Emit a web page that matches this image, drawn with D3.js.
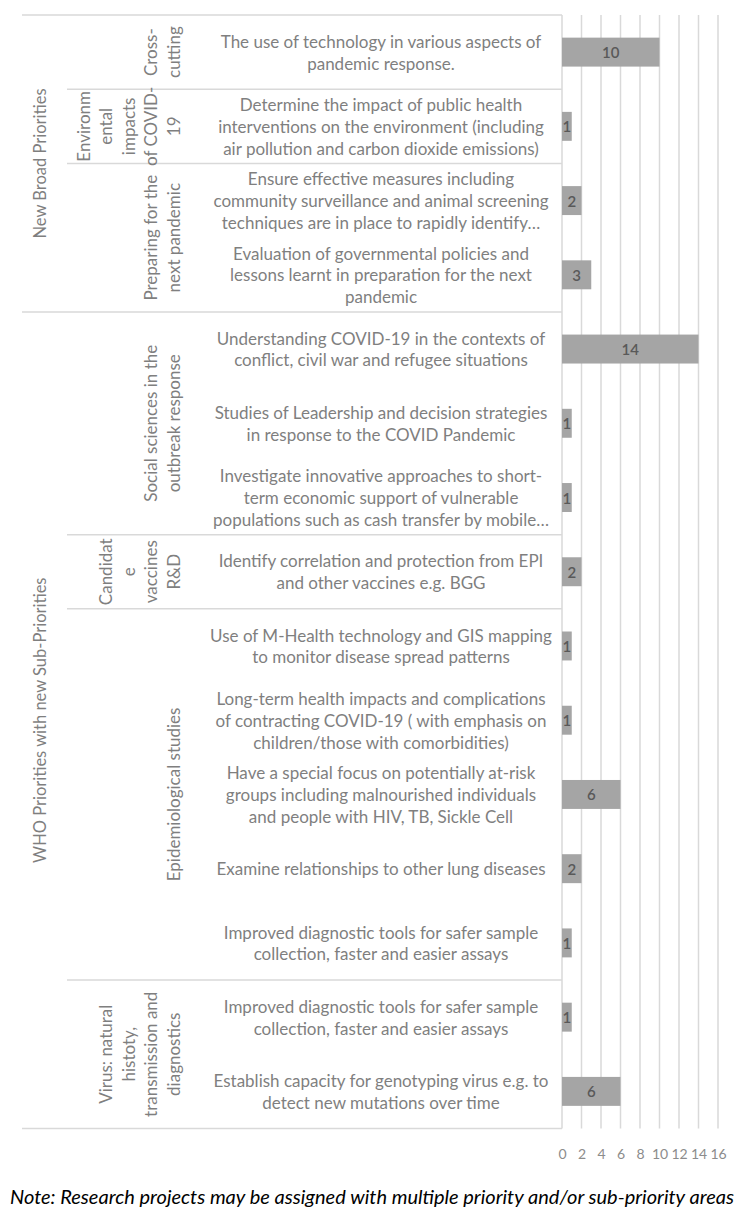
<!DOCTYPE html>
<html>
<head>
<meta charset="utf-8">
<script src="https://cdn.jsdelivr.net/npm/d3@7"></script>
<style>
  html, body { margin: 0; padding: 0; background: #fff; }
  svg { display: block; }
</style>
</head>
<body>
<svg id="chart" width="744" height="1219"></svg>
<script>
// ---------- data ----------
const categories = [
  "The use of technology in various aspects of\npandemic response.",
  "Determine the impact of public health\ninterventions on the environment (including\nair pollution and carbon dioxide emissions)",
  "Ensure effective measures including\ncommunity surveillance and animal screening\ntechniques are in place to rapidly identify…",
  "Evaluation of governmental policies and\nlessons learnt in preparation for the next\npandemic",
  "Understanding COVID-19 in the contexts of\nconflict, civil war and refugee situations",
  "Studies of Leadership and decision strategies\nin response to the COVID Pandemic",
  "Investigate innovative approaches to short-\nterm economic support of vulnerable\npopulations such as cash transfer by mobile…",
  "Identify correlation and protection from EPI\nand other vaccines e.g. BGG",
  "Use of M-Health technology and GIS mapping\nto monitor disease spread patterns",
  "Long-term health impacts and complications\nof contracting COVID-19 ( with emphasis on\nchildren/those with comorbidities)",
  "Have a special focus on potentially at-risk\ngroups including malnourished individuals\nand people with HIV, TB, Sickle Cell",
  "Examine relationships to other lung diseases",
  "Improved diagnostic tools for safer sample\ncollection, faster and easier assays",
  "Improved diagnostic tools for safer sample\ncollection, faster and easier assays",
  "Establish capacity for genotyping virus e.g. to\ndetect new mutations over time"
];
const values = [10, 1, 2, 3, 14, 1, 1, 2, 1, 1, 6, 2, 1, 1, 6];

const subGroups = [
  "Cross-\ncutting",
  "Environm\nental\nimpacts\nof COVID-\n19",
  "Preparing for the\nnext pandemic",
  "Social sciences in the\noutbreak response",
  "Candidat\ne\nvaccines\nR&D",
  "Epidemiological studies",
  "Virus: natural\nhistoty,\ntransmission and\ndiagnostics"
];
const subGroupOf = [0, 1, 2, 2, 3, 3, 3, 4, 5, 5, 5, 5, 5, 6, 6];

const mainGroups = ["New Broad Priorities", "WHO Priorities with new Sub-Priorities"];
const mainGroupOf = [0, 0, 0, 0, 1, 1, 1, 1, 1, 1, 1, 1, 1, 1, 1];

const xTicks = [0, 2, 4, 6, 8, 10, 12, 14, 16];
const xMax = 16;
const note = "Note: Research projects may be assigned with multiple priority and/or sub-priority areas";

// ---------- layout ----------
const FONT = "Lato, 'Open Sans', sans-serif";
const plotTop = 15, plotBottom = 1128.5;
const plotLeft = 562, plotRight = 718;
const mainLineX = 22, subLineX = 67;
const mainLabelX = 40, subLabelLastX = 173, catLabelX = 381;
const lineH = 21.8;
const gridColor = "#d9d9d9";
const textColor = "#7f7f7f";

const svg = d3.select("#chart");
const idx = d3.range(categories.length);

const yRow = d3.scaleBand().domain(idx).range([plotTop, plotBottom]).padding(0);
const yBar = d3.scaleBand().domain(idx).range([plotTop, plotBottom]).paddingInner(0.61).paddingOuter(0.305);
const x = d3.scaleLinear().domain([0, xMax]).range([plotLeft, plotRight]);

// gridlines
svg.append("g").selectAll("line").data(xTicks).join("line")
  .attr("x1", d => x(d)).attr("x2", d => x(d))
  .attr("y1", plotTop).attr("y2", plotBottom)
  .attr("stroke", gridColor).attr("stroke-width", 1.5);

// axis tick labels
const xAxis = d3.axisBottom(x).tickValues(xTicks).tickSize(0).tickPadding(0);
const axisG = svg.append("g").attr("transform", `translate(0,${plotBottom + 21})`).call(xAxis);
axisG.select(".domain").remove();
axisG.selectAll("text")
  .attr("font-family", FONT).attr("font-size", 14).attr("fill", "#8c8c8c")
  .attr("dy", "0.71em");

// separators
function groupBounds(groupOf) {
  const b = [];
  groupOf.forEach((g, i) => {
    if (!b[g]) b[g] = { start: i, end: i };
    b[g].end = i;
  });
  return b;
}
const subB = groupBounds(subGroupOf);
const mainB = groupBounds(mainGroupOf);

const sepG = svg.append("g");
[plotTop, plotBottom].forEach(yy => {
  sepG.append("line").attr("x1", mainLineX).attr("x2", plotLeft)
    .attr("y1", yy).attr("y2", yy).attr("stroke", gridColor).attr("stroke-width", 1.5);
});
mainB.slice(1).forEach(b => {
  const yy = yRow(b.start);
  sepG.append("line").attr("x1", mainLineX).attr("x2", plotLeft)
    .attr("y1", yy).attr("y2", yy).attr("stroke", gridColor).attr("stroke-width", 1.5);
});
subB.slice(1).forEach(b => {
  if (mainGroupOf[b.start] !== mainGroupOf[b.start - 1]) return;
  const yy = yRow(b.start);
  sepG.append("line").attr("x1", subLineX).attr("x2", plotLeft)
    .attr("y1", yy).attr("y2", yy).attr("stroke", gridColor).attr("stroke-width", 1.5);
});

// bars
svg.append("g").selectAll("rect").data(idx).join("rect")
  .attr("x", x(0)).attr("y", i => yBar(i))
  .attr("width", i => x(values[i]) - x(0))
  .attr("height", yBar.bandwidth())
  .attr("fill", "#a5a5a5");

// bar value labels
svg.append("g").selectAll("text").data(idx).join("text")
  .attr("x", i => (x(values[i]) + x(0)) / 2)
  .attr("y", i => yBar(i) + yBar.bandwidth() / 2)
  .attr("text-anchor", "middle").attr("dominant-baseline", "central")
  .attr("font-family", FONT).attr("font-size", 15).attr("font-weight", 600).attr("fill", "#595959")
  .text(i => values[i]);

// category labels
const catG = svg.append("g");
idx.forEach(i => {
  const lines = categories[i].split("\n");
  const cy = yRow(i) + yRow.bandwidth() / 2;
  const t = catG.append("text")
    .attr("text-anchor", "middle")
    .attr("font-family", FONT).attr("font-size", 17).attr("fill", textColor);
  lines.forEach((ln, k) => {
    t.append("tspan").attr("x", catLabelX)
      .attr("y", cy + (k - (lines.length - 1) / 2) * lineH)
      .attr("dominant-baseline", "central")
      .text(ln);
  });
});

// sub group labels (rotated)
const subG = svg.append("g");
subB.forEach((b, g) => {
  const lines = subGroups[g].split("\n");
  const cy = (yRow(b.start) + yRow(b.end) + yRow.bandwidth()) / 2;
  const t = subG.append("text")
    .attr("transform", `translate(${subLabelLastX},${cy}) rotate(-90)`)
    .attr("text-anchor", "middle")
    .attr("font-family", FONT).attr("font-size", 17).attr("fill", textColor);
  lines.forEach((ln, k) => {
    t.append("tspan").attr("x", 0)
      .attr("y", -(lines.length - 1 - k) * 22.5)
      .attr("dominant-baseline", "central")
      .text(ln);
  });
});

// main group labels (rotated)
const mainG = svg.append("g");
mainB.forEach((b, g) => {
  const cy = (yRow(b.start) + yRow(b.end) + yRow.bandwidth()) / 2;
  mainG.append("text")
    .attr("transform", `translate(${mainLabelX},${cy}) rotate(-90)`)
    .attr("text-anchor", "middle").attr("dominant-baseline", "central")
    .attr("font-family", FONT).attr("font-size", 16.5).attr("fill", textColor)
    .text(mainGroups[g]);
});

// note
svg.append("text")
  .attr("x", 372).attr("y", 1196)
  .attr("text-anchor", "middle").attr("dominant-baseline", "central")
  .attr("font-family", FONT).attr("font-size", 20).attr("font-style", "italic").attr("fill", "#000")
  .text(note);
</script>
</body>
</html>
